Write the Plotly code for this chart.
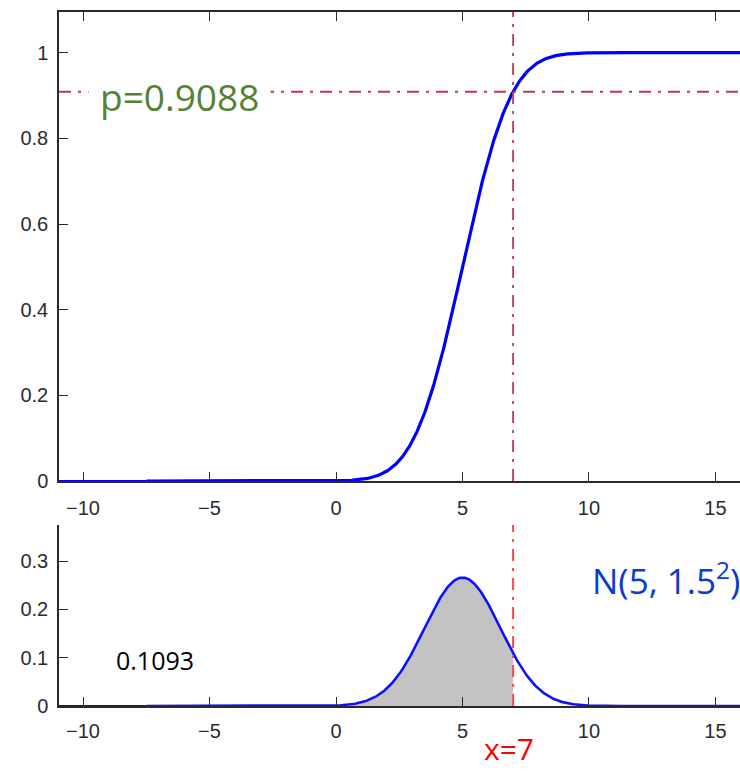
import math
import numpy as np
import plotly.graph_objects as go

# Distribution parameters and the evaluation point
MU = 5.0
SIGMA = 1.5
X_CUT = 7.0
P_LABEL = "p=0.9088"
PDF_LABEL = "0.1093"
DIST_LABEL = "N(5, 1.5<sup>2</sup>)"
X_LABEL = "x=7"

X_TICKS = [-10, -5, 0, 5, 10, 15]
CDF_TICKS = [0, 0.2, 0.4, 0.6, 0.8, 1]
CDF_TICK_TEXT = ["0", "0.2", "0.4", "0.6", "0.8", "1"]
PDF_TICKS = [0, 0.1, 0.2, 0.3]
PDF_TICK_TEXT = ["0", "0.1", "0.2", "0.3"]

X_RANGE = [-10.95, 15.97]
CDF_RANGE = [0, 1.095]
PDF_RANGE = [0, 0.375]
CURVE_START, CURVE_END = -7.5, 17.5

x = np.linspace(CURVE_START, CURVE_END, 801)
cdf = np.array([0.5 * (1 + math.erf((v - MU) / (SIGMA * math.sqrt(2)))) for v in x])
pdf = np.exp(-0.5 * ((x - MU) / SIGMA) ** 2) / (SIGMA * math.sqrt(2 * math.pi))
p_cut = 0.5 * (1 + math.erf((X_CUT - MU) / (SIGMA * math.sqrt(2))))

W, H = 740, 771
fig = go.Figure()

BLUE = "#0000ff"
AXIS = "#2a2a2a"
TICKFONT = dict(family="Liberation Sans, Arial", size=20, color="#2b2b33")

# --- top panel: CDF ---
fig.add_trace(go.Scatter(x=[X_RANGE[0], CURVE_START], y=[0, 0], mode="lines",
                         line=dict(color=BLUE, width=2), xaxis="x", yaxis="y",
                         showlegend=False, hoverinfo="skip"))
fig.add_trace(go.Scatter(x=x, y=cdf, mode="lines", line=dict(color=BLUE, width=3.2),
                         xaxis="x", yaxis="y", showlegend=False))

# --- bottom panel: PDF with shaded area up to X_CUT ---
mask = x <= X_CUT
fig.add_trace(go.Scatter(x=np.append(x[mask], X_CUT),
                         y=np.append(pdf[mask], pdf[mask][-1]),
                         mode="lines", line=dict(width=0), fill="tozeroy",
                         fillcolor="#c3c3c3", xaxis="x2", yaxis="y2",
                         showlegend=False, hoverinfo="skip"))
fig.add_trace(go.Scatter(x=[X_RANGE[0], CURVE_START], y=[0, 0], mode="lines",
                         line=dict(color=BLUE, width=2), xaxis="x2", yaxis="y2",
                         showlegend=False, hoverinfo="skip"))
fig.add_trace(go.Scatter(x=x, y=pdf, mode="lines", line=dict(color="#1010ff", width=2.6),
                         xaxis="x2", yaxis="y2", showlegend=False))

top_dom = [1 - 481 / H, 1 - 12 / H]
bot_dom = [1 - 706 / H, 1 - 525 / H]
x_dom = [59 / W, 1.0]

axis_common = dict(showgrid=False, zeroline=False, showline=True, linecolor=AXIS,
                   linewidth=1.5, ticks="inside", ticklen=9, tickcolor=AXIS,
                   tickwidth=1.3, tickfont=TICKFONT)

fig.update_layout(
    width=W, height=H, margin=dict(l=0, r=0, t=0, b=0, autoexpand=False),
    paper_bgcolor="white", plot_bgcolor="white",
    xaxis=dict(domain=x_dom, range=X_RANGE, tickvals=X_TICKS, anchor="y",
               mirror="ticks", ticklabelstandoff=8, **axis_common),
    yaxis=dict(domain=top_dom, range=CDF_RANGE, tickvals=CDF_TICKS,
               ticktext=CDF_TICK_TEXT, anchor="x", ticklabelstandoff=5, **axis_common),
    xaxis2=dict(domain=x_dom, range=X_RANGE, tickvals=X_TICKS, anchor="y2",
                ticklabelstandoff=6, **axis_common),
    yaxis2=dict(domain=bot_dom, range=PDF_RANGE, tickvals=PDF_TICKS,
                ticktext=PDF_TICK_TEXT, anchor="x2", ticklabelstandoff=5, **axis_common),
)

# reference lines at x = X_CUT and p = P(X <= X_CUT)
fig.add_shape(type="line", xref="x", yref="y", x0=X_CUT, x1=X_CUT, y0=0, y1=CDF_RANGE[1],
              line=dict(color="#c8344f", width=1.8, dash="12px,7px,3px,7px"))
fig.add_shape(type="line", xref="x", yref="y", x0=X_RANGE[0], x1=X_RANGE[1], y0=p_cut, y1=p_cut,
              line=dict(color="#c8344f", width=1.8, dash="12px,7px,3px,7px"))
fig.add_shape(type="line", xref="x2", yref="y2", x0=X_CUT, x1=X_CUT, y0=0, y1=PDF_RANGE[1],
              line=dict(color="#ff4a4a", width=2, dash="12px,7px,3px,7px"))

TEXTFONT = "Open Sans, Noto Sans, sans-serif"
fig.add_annotation(xref="paper", yref="paper", x=179 / W, y=1 - 96 / H,
                   xanchor="center", yanchor="middle",
                   text=P_LABEL, showarrow=False, bgcolor="white", borderpad=11,
                   font=dict(family=TEXTFONT, size=37, color="#548235"))
fig.add_annotation(xref="paper", yref="paper", x=155 / W, y=1 - 660 / H,
                   xanchor="center", yanchor="middle",
                   text=PDF_LABEL, showarrow=False,
                   font=dict(family=TEXTFONT, size=25, color="#000000"))
fig.add_annotation(xref="paper", yref="paper", x=742 / W, y=1 - 578 / H,
                   xanchor="right", yanchor="middle",
                   text=DIST_LABEL, showarrow=False,
                   font=dict(family=TEXTFONT, size=35, color="#0a3cd2"))
fig.add_annotation(xref="paper", yref="paper", x=509 / W, y=1 - 748 / H,
                   xanchor="center", yanchor="middle", borderpad=0,
                   text=X_LABEL, showarrow=False,
                   font=dict(family=TEXTFONT, size=30, color="#ff0000"))

fig.write_html("out.html")
